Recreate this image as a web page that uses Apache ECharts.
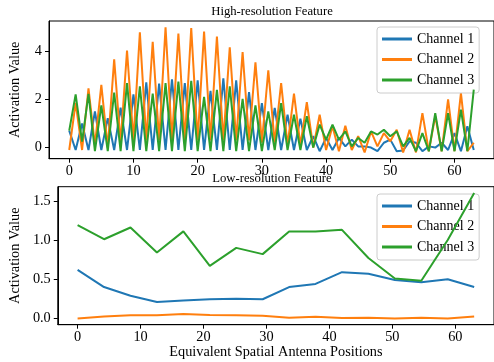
<!DOCTYPE html>
<html>
<head>
<meta charset="utf-8">
<script src="https://cdn.jsdelivr.net/npm/echarts@6/dist/echarts.min.js"></script>
<style>html,body{margin:0;padding:0;background:#fff;}#c{width:494px;height:362px;}</style>
</head>
<body>
<div id="c"></div>
<script>
// High-resolution feature: 64 antenna positions (index 0..63)
const hiCh1 = [0.7,-0.1,1.0,-0.1,1.5,-0.1,1.22,-0.1,1.65,-0.1,2.2,-0.1,2.7,-0.1,2.65,-0.1,
  2.83,-0.1,2.67,-0.1,2.78,-0.1,2.35,-0.1,2.87,-0.1,2.78,-0.1,2.3,-0.1,1.84,-0.1,
  1.64,-0.1,1.36,-0.1,1.2,-0.1,0.47,-0.15,0.4,-0.1,0.4,0.05,0.33,0.05,0.05,0.0,
  -0.15,0.2,0.33,-0.15,-0.12,0.26,0.2,-0.15,0.05,0.0,0.2,-0.1,0.6,-0.15,0.88,-0.1];
const hiCh2 = [-0.1,1.85,-0.1,2.45,0.1,2.6,0.0,3.65,0.2,4.02,0.3,4.77,0.3,4.38,0.3,4.98,
  0.3,4.72,0.3,4.95,0.3,4.8,0.3,4.6,0.3,4.15,0.3,3.95,0.3,3.53,0.2,3.2,
  0.2,2.67,0.1,2.23,0.1,1.88,0.0,1.36,-0.1,0.88,-0.15,0.9,-0.1,0.47,-0.2,0.67,
  0.05,0.6,0.26,0.74,-0.2,0.74,-0.2,1.43,-0.15,1.3,-0.15,2.0,-0.15,2.25,-0.15,0.2];
const hiCh3 = [0.7,2.2,0.25,2.22,-0.15,1.75,-0.15,2.28,-0.15,2.67,-0.15,2.53,-0.15,2.23,-0.15,2.67,
  -0.15,2.73,-0.15,2.76,-0.15,2.1,-0.15,2.39,-0.15,2.53,-0.15,2.02,-0.15,1.75,-0.15,1.5,
  -0.1,1.84,-0.1,1.36,-0.1,1.3,0.0,0.95,0.33,0.95,0.33,0.67,0.05,0.4,0.2,0.67,
  0.54,0.74,0.47,0.67,0.05,0.4,-0.15,0.6,-0.15,1.43,-0.15,1.43,-0.15,1.57,-0.15,2.4];

// Low-resolution feature: 16 positions
const loX = [0,4.2,8.4,12.6,16.8,21,25.2,29.4,33.6,37.8,42,46.2,50.4,54.6,58.8,63];
const loCh1 = [0.62,0.40,0.29,0.21,0.23,0.245,0.25,0.245,0.40,0.44,0.59,0.57,0.49,0.46,0.50,0.40];
const loCh2 = [0.0,0.025,0.04,0.04,0.055,0.045,0.04,0.035,0.01,0.02,0.005,0.01,0.0,0.01,0.0,0.025];
const loCh3 = [1.19,1.01,1.16,0.84,1.11,0.67,0.90,0.82,1.11,1.11,1.13,0.77,0.51,0.48,1.0,1.60];

const xTicks = [0,10,20,30,40,50,60];
const hiYTicks = [0,2,4];
const loYTicks = [0,0.5,1.0,1.5];
const names = ['Channel 1','Channel 2','Channel 3'];
const colors = ['#1f77b4','#ff7f0e','#2ca02c'];

const FONT = 'Liberation Serif, Times New Roman, serif';
const hiData = [hiCh1, hiCh2, hiCh3].map(arr => arr.map((v, i) => [i, v]));
const loData = [loCh1, loCh2, loCh3].map(arr => arr.map((v, i) => [loX[i], v]));

function xAxis(gridIndex, withName) {
  return {
    type: 'value', gridIndex, min: -3.15, max: 66.15,
    axisLine: {show: true, onZero: false, lineStyle: {color: '#000', width: 1}},
    axisTick: {show: true, length: 4, customValues: xTicks, lineStyle: {color: '#000'}},
    axisLabel: {customValues: xTicks, color: '#000', fontFamily: FONT, fontSize: 14.3, margin: 6},
    splitLine: {show: false},
    name: withName ? 'Equivalent Spatial Antenna Positions' : '',
    nameLocation: 'middle', nameGap: 20,
    nameTextStyle: {color: '#000', fontFamily: FONT, fontSize: 14.3}
  };
}
function yAxis(gridIndex, min, max, ticks, fmt) {
  return {
    type: 'value', gridIndex, min, max,
    axisLine: {show: true, onZero: false, lineStyle: {color: '#000', width: 1}},
    axisTick: {show: true, length: 4, customValues: ticks, lineStyle: {color: '#000'}},
    axisLabel: {customValues: ticks, color: '#000', fontFamily: FONT, fontSize: 14.3, margin: 7, formatter: fmt},
    splitLine: {show: false},
    name: 'Activation Value', nameLocation: 'middle', nameGap: 27,
    nameTextStyle: {color: '#000', fontFamily: FONT, fontSize: 14.3}
  };
}
function legend(top) {
  return {
    data: names, left: 377, top: top, orient: 'vertical',
    icon: 'rect', itemWidth: 30, itemHeight: 3, itemGap: 6.5, itemTextGap: 11,
    padding: [5, 5, 6, 5],
    backgroundColor: 'rgba(255,255,255,0.8)', borderColor: '#cccccc', borderWidth: 1, borderRadius: 3,
    textStyle: {color: '#000', fontFamily: FONT, fontSize: 14}
  };
}

const series = [];
for (let k = 0; k < 3; k++) {
  series.push({type: 'line', name: names[k], xAxisIndex: 0, yAxisIndex: 0, data: hiData[k],
    showSymbol: false, lineStyle: {width: 2, color: colors[k]}, itemStyle: {color: colors[k]}, z: 2 + k});
}
for (let k = 0; k < 3; k++) {
  series.push({type: 'line', name: names[k], xAxisIndex: 1, yAxisIndex: 1, data: loData[k],
    showSymbol: false, lineStyle: {width: 2, color: colors[k]}, itemStyle: {color: colors[k]}, z: 2 + k});
}

const chart = echarts.init(document.getElementById('c'), null, {renderer: 'canvas'});
chart.setOption({
  animation: false,
  backgroundColor: '#fff',
  color: colors,
  grid: [
    {left: 48.3, top: 21, width: 447.4, height: 137.7, show: true, borderColor: '#000', borderWidth: 1, backgroundColor: 'transparent'},
    {left: 48.3, top: 186.7, width: 447.4, height: 138, show: true, borderColor: '#000', borderWidth: 1, backgroundColor: 'transparent'}
  ],
  xAxis: [xAxis(0, false), xAxis(1, true)],
  yAxis: [
    yAxis(0, -0.46, 5.24, hiYTicks, v => String(v)),
    yAxis(1, -0.08, 1.68, loYTicks, v => v.toFixed(1))
  ],
  legend: [legend(27), legend(194)],
  graphic: [
    {type: 'text', x: 272, y: 12, style: {text: 'High-resolution Feature', fill: '#000', font: '12.7px ' + FONT, textAlign: 'center', textVerticalAlign: 'middle'}},
    {type: 'text', x: 272, y: 179, style: {text: 'Low-resolution Feature', fill: '#000', font: '12.7px ' + FONT, textAlign: 'center', textVerticalAlign: 'middle'}}
  ],
  series
});
</script>
</body>
</html>
